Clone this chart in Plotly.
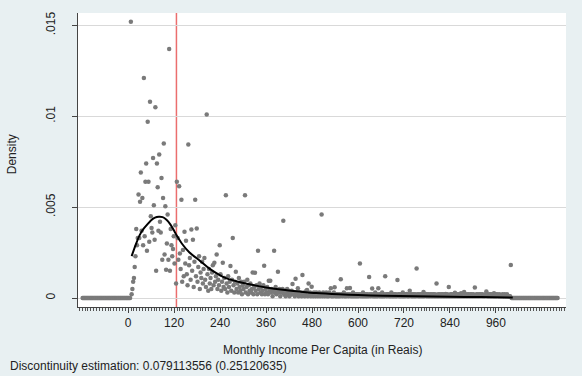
import plotly.graph_objects as go

# ---------------- data (density values in units of 1/1000) ----------------
bin_width = 2
bin_centers = list(range(1, 1000, bin_width))          # 1, 3, ..., 999

dens_0_250 = [
    0, 0, 0, 15.2, 0.2, 0.5, 0.9, 1.1, 1.7, 2.3, 3.8, 2.9, 3.3, 5.7, 3.3, 5.3, 6.9, 3.7, 5.5, 2.9, 12.1, 3.4, 6.4, 7.4, 2.6,
    9.7, 6.4, 3.1, 10.8, 4.5, 3.85, 3.6, 7.7, 5.1, 3.2, 10.5, 1.5, 7.4, 6.1, 3.7, 7.9, 4.2, 3.6, 6.6, 2.1, 5.5, 8.5, 2.4, 5.05, 1.55,
    3.0, 4.6, 2.1, 13.7, 1.5, 3.8, 2.9, 2.3, 2.7, 3.4, 1.9, 4.0, 0.8, 6.4, 3.3, 2.1, 6.15, 2.45, 1.6, 5.4, 0.9, 2.64, 1.2, 3.64, 1.9,
    3.15, 1.3, 0.7, 8.45, 1.8, 2.2, 1.0, 3.77, 1.5, 3.2, 0.6, 2.0, 5.4, 1.2, 3.83, 0.9, 1.7, 2.3, 0.5, 1.4, 1.1, 2.0, 0.8, 1.6, 2.2,
    1.0, 0.6, 10.1, 1.3, 0.4, 1.6, 0.8, 1.1, 0.5, 1.4, 1.8, 0.7, 1.94, 0.9, 1.2, 2.4, 0.5, 1.0, 0.7, 2.9, 1.3, 0.4, 0.9, 1.94, 0.6,
]
dens_250_500 = [
    1.1, 0.5, 5.66, 0.8, 0.3, 1.2, 0.6, 0.9, 1.76, 0.4, 1.0, 3.3, 0.7, 0.3, 0.9, 1.45, 0.5, 0.8, 0.3, 1.1, 0.6, 0.4, 0.9, 0.2, 0.7,
    0.5, 0.9, 5.66, 0.3, 0.6, 1.0, 0.2, 0.7, 0.4, 0.8, 0.3, 0.5, 1.4, 0.2, 0.6, 1.39, 0.4, 0.7, 0.2, 2.6, 0.5, 0.8, 0.3, 0.6, 0.2,
    0.4, 0.7, 1.77, 0.2, 0.5, 0.3, 0.6, 0.2, 0.95, 0.4, 0.95, 0.3, 0.5, 0.1, 0.4, 2.6, 0.3, 0.6, 0.2, 0.4, 1.45, 0.3, 0.5, 0.1, 0.4,
    0.3, 0.5, 4.25, 0.2, 0.4, 0.1, 0.3, 0.5, 0.2, 0.4, 0.1, 0.3, 0.2, 0.4, 0.77, 0.2, 0.3, 0.1, 1.06, 0.3, 0.2, 0.53, 0.1, 0.3, 0.2,
    0.3, 0.1, 1.26, 0.2, 0.3, 0.1, 0.2, 0.4, 0.44, 0.1, 0.8, 0.2, 0.3, 0.1, 0.62, 0.2, 0.1, 0.3, 0.2, 0.1, 0.3, 0.2, 0.1, 0.2, 0.3,
]
dens_500_750 = [
    0.1, 0.2, 4.6, 0.1, 0.3, 0.2, 0.1, 0.2, 0.3, 0.1, 0.2, 0.1, 0.3, 0.2, 0.53, 0.1, 0.2, 0.1, 0.3, 0.59, 0.1, 0.2, 0.1, 0.2, 0.1,
    0.2, 0.1, 1.03, 0.2, 0.1, 0.2, 0.3, 0.1, 0.2, 0.1, 0.53, 0.2, 0.1, 0.2, 0.55, 0.1, 0.2, 0.1, 0.3, 0.1, 0.2, 0.1, 0.2, 0.1, 0.2,
    0.1, 0.2, 1.9, 0.1, 0.2, 0.1, 0.3, 0.1, 0.2, 0.1, 0.2, 0.1, 0.2, 0.1, 1.16, 0.2, 0.1, 0.2, 0.52, 0.1, 0.2, 0.1, 0.3, 0.1, 0.2,
    0.1, 0.53, 0.2, 0.1, 0.2, 0.1, 0.3, 0.1, 0.2, 0.1, 1.19, 0.2, 0.1, 0.2, 0.2, 0.1, 0.2, 0.1, 0.3, 0.1, 0.2, 0.1, 0.2, 0.1, 0.2,
    0.1, 0.99, 0.2, 0.1, 0.2, 0.1, 0.2, 0.1, 0.3, 0.1, 0.2, 0.1, 0.2, 0.22, 0.1, 0.2, 0.1, 0.4, 0.2, 0.1, 0.2, 0.1, 0.2, 0.1, 0.2,
]
dens_750_1000 = [
    0.1, 1.63, 0.2, 0.1, 0.2, 0.1, 0.2, 0.1, 0.2, 0.1, 0.33, 0.1, 0.2, 0.22, 0.1, 0.2, 0.1, 0.2, 0.1, 0.2, 0.1, 0.2, 0.1, 0.2, 0.1,
    0.2, 0.1, 0.8, 0.1, 0.2, 0.1, 0.2, 0.1, 0.2, 0.1, 0.2, 0.1, 0.2, 0.1, 0.22, 0.1, 0.2, 0.1, 0.6, 0.1, 0.2, 0.1, 0.2, 0.1, 0.2,
    0.1, 0.29, 0.1, 0.2, 0.1, 0.2, 0.1, 0.2, 0.1, 0.26, 0.1, 0.2, 0.1, 0.33, 0.1, 0.2, 0.1, 0.2, 0.1, 0.2, 0.1, 0.2, 0.1, 0.2, 0.1,
    0.2, 0.1, 0.58, 0.1, 0.2, 0.1, 0.2, 0.1, 0.2, 0.1, 0.2, 0.1, 0.2, 0.1, 0.16, 0.1, 0.2, 0.36, 0.1, 0.2, 0.1, 0.2, 0.1, 0.2, 0.1,
    0.2, 0.1, 0.26, 0.1, 0.2, 0.1, 0.2, 0.18, 0.1, 0.2, 0.1, 0.15, 0.1, 0.2, 0.1, 0.1, 0.2, 0.1, 0.1, 0.2, 0.1, 0.1, 0.1, 0.1, 1.81,
]

# empty bins outside the support (density 0)
zero_bins_left = list(range(-119, 0, bin_width))
zero_bins_right = list(range(1001, 1122, bin_width))

# fitted density (units of 1/1000)
fit_x = [9, 20, 30, 40, 50, 60, 70, 80, 90, 100, 110, 120, 126, 140, 160, 187, 213, 240, 257,
         290, 326, 360, 404, 450, 491, 550, 600, 665, 750, 839, 920, 1004]
fit_v = [2.3, 2.95, 3.46, 3.8, 4.05, 4.28, 4.42, 4.47, 4.45, 4.3, 4.05, 3.7, 3.46, 3.0, 2.5, 2.05,
         1.6, 1.25, 1.08, 0.88, 0.71, 0.58, 0.45, 0.35, 0.27, 0.2, 0.16, 0.12, 0.09, 0.07, 0.05, 0.03]

cutoff = 126
x_ticks = [0, 120, 240, 360, 480, 600, 720, 840, 960]
y_ticks = [0, 0.005, 0.01, 0.015]
y_tick_text = ["0", ".005", ".01", ".015"]
note = "Discontinuity estimation: 0.079113556 (0.25120635)"

# ---------------- build ----------------
dens = dens_0_250 + dens_250_500 + dens_500_750 + dens_750_1000
xs = zero_bins_left + bin_centers + zero_bins_right
ys = [0.0] * len(zero_bins_left) + [v / 1000 for v in dens] + [0.0] * len(zero_bins_right)

FONT = "Liberation Sans, Arial, Helvetica, sans-serif"
BG = "#e8f0f2"

fig = go.Figure()
fig.add_trace(go.Scatter(
    x=xs, y=ys, mode="markers",
    marker=dict(size=4.5, color="#7a7a7a", line=dict(width=0)),
    showlegend=False, hoverinfo="skip"))
fig.add_trace(go.Scatter(
    x=fit_x, y=[v / 1000 for v in fit_v], mode="lines",
    line=dict(color="black", width=2, shape="spline", smoothing=0.6),
    showlegend=False, hoverinfo="skip"))

fig.add_shape(type="line", xref="x", yref="paper", x0=cutoff, x1=cutoff, y0=0, y1=1,
              line=dict(color="rgb(235,110,110)", width=1.5), layer="below")

fig.update_layout(
    width=582, height=376,
    margin=dict(l=78, r=16, t=13, b=69),
    paper_bgcolor=BG, plot_bgcolor="white",
    font=dict(family=FONT, size=12, color="#222"),
    xaxis=dict(
        range=[-131, 1143], tickvals=x_ticks, ticks="outside", ticklen=5,
        tickcolor="#444", showline=True, linecolor="#444", linewidth=1,
        showgrid=False, zeroline=False, tickfont=dict(size=12),
        minor=dict(ticks="outside", ticklen=3, dtick=7.5, tick0=0, tickcolor="#555", showgrid=False),
    ),
    yaxis=dict(
        range=[-0.000495, 0.01568], tickvals=y_ticks, ticktext=y_tick_text,
        tickangle=-90, ticks="outside", ticklen=5, tickcolor="#444",
        showline=True, linecolor="#444", linewidth=1,
        showgrid=True, gridcolor="#d9d9d9", gridwidth=1, zeroline=False,
        tickfont=dict(size=12), ticklabelstandoff=12,
    ),
    annotations=[
        dict(text="Monthly Income Per Capita (in Reais)", xref="paper", yref="paper",
             x=0.5, y=-0.146, xanchor="center", yanchor="middle", showarrow=False,
             font=dict(size=12)),
        dict(text="Density", xref="paper", yref="paper", x=-0.135, y=0.52,
             xanchor="center", yanchor="middle", textangle=-90, showarrow=False,
             font=dict(size=12)),
        dict(text=note, xref="paper", yref="paper", x=-0.1434, y=-0.2313,
             xanchor="left", yanchor="bottom", showarrow=False, font=dict(size=12)),
    ],
)

fig.write_html("out.html")
